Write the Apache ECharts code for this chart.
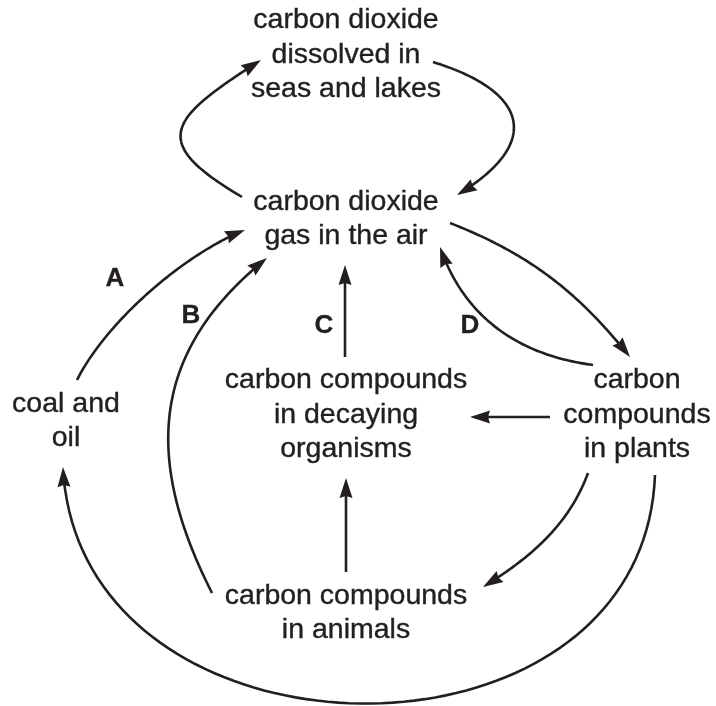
<!DOCTYPE html>
<html>
<head>
<meta charset="utf-8">
<script src="https://cdn.jsdelivr.net/npm/echarts@6/dist/echarts.min.js"></script>
<style>
  html, body { margin: 0; padding: 0; background: #fff; }
  #chart { width: 716px; height: 706px; }
</style>
</head>
<body>
<div id="chart"></div>
<script>
// ---- Diagram content ----
const nodeNames = [
  'carbon dioxide\ndissolved in\nseas and lakes',
  'carbon dioxide\ngas in the air',
  'coal and\noil',
  'carbon compounds\nin decaying\norganisms',
  'carbon\ncompounds\nin plants',
  'carbon compounds\nin animals'
];
const letterNames = ['A', 'B', 'C', 'D'];

// ---- Layout (diagram coordinates) ----
const nodeX = [346, 346, 66, 346, 637, 346];
const nodeY = [55, 219, 421, 415, 415, 613];
const letterX = [115, 191, 324, 470];
const letterY = [279, 316, 326, 326];

// arrows: start, control 1, control 2, end (tip) of a cubic curve
const arrowStart = [[242,197],[433,62],[77,380],[212,593],[655,475],[588,473],[450,223],[593,365],[550,417],[345,357],[346,572]];
const arrowCtrl1 = [[147,141],[530,92],[106,322],[144,459],[643,785],[569,525],[529,254],[511,354],[550,417],[345,357],[346,572]];
const arrowCtrl2 = [[169,119],[542,144],[184,254],[150,352],[78,777],[530,558],[577,291],[462,311],[470,417],[345,265],[346,478]];
const arrowEnd   = [[261,60],[457,195],[245,230],[267,258],[63,467],[483,587],[630,357],[440,247],[470,417],[345,265],[346,478]];

const INK = '#231f20';

const arrowData = arrowStart.map((s, i) => [
  s[0], s[1], arrowCtrl1[i][0], arrowCtrl1[i][1],
  arrowCtrl2[i][0], arrowCtrl2[i][1], arrowEnd[i][0], arrowEnd[i][1]
]);

function renderArrow(params, api) {
  const p0 = api.coord([api.value(0), api.value(1)]);
  const p1 = api.coord([api.value(2), api.value(3)]);
  const p2 = api.coord([api.value(4), api.value(5)]);
  const p3 = api.coord([api.value(6), api.value(7)]);
  const N = 80;
  const pts = [];
  for (let k = 0; k <= N; k++) {
    const t = k / N, u = 1 - t;
    const a = u*u*u, b = 3*u*u*t, c = 3*u*t*t, d = t*t*t;
    pts.push([a*p0[0]+b*p1[0]+c*p2[0]+d*p3[0], a*p0[1]+b*p1[1]+c*p2[1]+d*p3[1]]);
  }
  let dx = p3[0]-p2[0], dy = p3[1]-p2[1];
  if (Math.hypot(dx, dy) < 1) { dx = p3[0]-p0[0]; dy = p3[1]-p0[1]; }
  const len = Math.hypot(dx, dy); dx /= len; dy /= len;
  const L = 20, W = 6.5;
  const tip = p3;
  const base = [tip[0]-dx*L, tip[1]-dy*L];
  const left = [base[0]-dy*W, base[1]+dx*W];
  const right = [base[0]+dy*W, base[1]-dx*W];
  const notch = [tip[0]-dx*(L-2), tip[1]-dy*(L-2)];
  const line = pts.filter(p => Math.hypot(p[0]-tip[0], p[1]-tip[1]) > 12);
  line.push([tip[0]-dx*12, tip[1]-dy*12]);
  return {
    type: 'group',
    children: [
      { type: 'polyline', shape: { points: line }, style: { stroke: INK, lineWidth: 2.6, fill: null } },
      { type: 'polygon', shape: { points: [tip, left, notch, right] }, style: { fill: INK, stroke: null } }
    ]
  };
}

const chart = echarts.init(document.getElementById('chart'), null, { renderer: 'canvas' });
chart.setOption({
  animation: false,
  backgroundColor: '#ffffff',
  grid: { left: 0, right: 0, top: 0, bottom: 0 },
  xAxis: { type: 'value', min: 0, max: 716, show: false },
  yAxis: { type: 'value', min: 0, max: 706, inverse: true, show: false },
  series: [
    {
      type: 'custom',
      silent: true,
      renderItem: renderArrow,
      encode: { x: [0, 2, 4, 6], y: [1, 3, 5, 7] },
      data: arrowData,
      clip: false
    },
    {
      type: 'scatter',
      silent: true,
      symbolSize: 0,
      itemStyle: { opacity: 1 },
      data: nodeNames.map((n, i) => ({ name: n, value: [nodeX[i], nodeY[i]] })),
      label: {
        show: true, position: 'inside', formatter: '{b}', opacity: 1,
        fontFamily: '"Liberation Sans", Arial, sans-serif',
        fontSize: 28.5, lineHeight: 34.5, color: INK, align: 'center', verticalAlign: 'middle',
        textBorderColor: INK, textBorderWidth: 0.4
      }
    },
    {
      type: 'scatter',
      silent: true,
      symbolSize: 0,
      itemStyle: { opacity: 1 },
      data: letterNames.map((n, i) => ({ name: n, value: [letterX[i], letterY[i]] })),
      label: {
        show: true, position: 'inside', formatter: '{b}', opacity: 1,
        fontFamily: '"Liberation Sans", Arial, sans-serif', fontWeight: 'bold',
        fontSize: 26, color: INK, align: 'center', verticalAlign: 'middle',
        textBorderColor: INK, textBorderWidth: 0.3
      }
    }
  ]
});
</script>
</body>
</html>
